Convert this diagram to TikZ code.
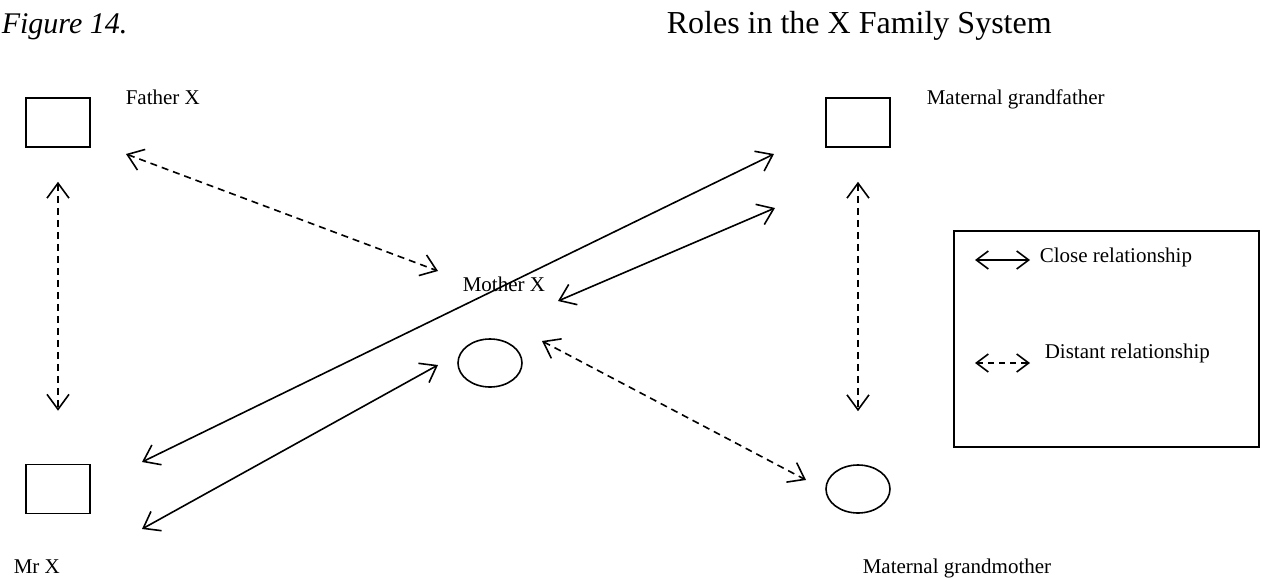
\documentclass[tikz,border=0pt]{standalone}
\usepackage{fontspec}
\setmainfont{Liberation Serif}
\usetikzlibrary{arrows.meta,positioning,shapes.geometric}

\begin{document}
\begin{tikzpicture}[
  x=1pt, y=-1pt,
  line width=1.6pt,
  lbl/.style={font=\fontsize{21}{25}\selectfont, inner sep=0pt, anchor=base west},
  ttl/.style={font=\fontsize{32}{38}\selectfont, inner sep=0pt, anchor=base west},
  male/.style={draw, minimum width=64pt, minimum height=49pt, inner sep=0pt},
  female/.style={draw, ellipse, minimum width=64pt, minimum height=48pt, inner sep=0pt},
  rel/.style={{Straight Barb[length=15pt,width=22pt]}-{Straight Barb[length=15pt,width=22pt]}},
  close/.style={rel},
  distant/.style={rel, dash pattern=on 7pt off 5pt},
  keyclose/.style={{Straight Barb[length=12pt,width=18pt]}-{Straight Barb[length=12pt,width=18pt]}},
  keydistant/.style={keyclose, dash pattern=on 6pt off 5pt}
]
\useasboundingbox (0,0) rectangle (1262,579);

% heading
\node[ttl, font=\fontsize{30}{36}\selectfont\itshape] (fig) at (1,33) {Figure 14.};
\node[ttl] (title) at (666,33) {Roles in the X Family System};

% family members
\node[male] (father) at (58,122.5) {};
\node[male] (mrx) at (58,489) {};
\node[male] (gfather) at (858,122.5) {};
\node[female] (mother) at (490,363) {};
\node[female] (gmother) at (858,489) {};

\node[lbl] (fatherlbl) at (125,104) {Father X};
\node[lbl] (mrxlbl) at (13,573) {Mr X};
\node[lbl] (gfatherlbl) at (926,104) {Maternal grandfather};
\node[lbl] (motherlbl) at (462,291) {Mother X};
\node[lbl] (gmotherlbl) at (862,573) {Maternal grandmother};

% free ends of the diagonal arrows
\coordinate (fm1) at (126,154);
\coordinate (fm2) at (438,271);
\coordinate (mg1) at (542,341);
\coordinate (mg2) at (806,480);
\coordinate (xg1) at (142,462);
\coordinate (xg2) at (774,154);
\coordinate (xm1) at (142,529);
\coordinate (xm2) at (438,365);
\coordinate (mf1) at (558,301);
\coordinate (mf2) at (775,208);

% relationships
\draw[distant, shorten <=34pt, shorten >=53pt] (father) -- (mrx);
\draw[distant, shorten <=34pt, shorten >=53pt] (gfather) -- (gmother);
\draw[distant] (fm1) -- (fm2);
\draw[distant] (mg1) -- (mg2);
\draw[close] (xg1) -- (xg2);
\draw[close] (xm1) -- (xm2);
\draw[close] (mf1) -- (mf2);

% key
\node[draw, minimum width=305pt, minimum height=216pt, inner sep=0pt] (key) at (1106.5,339) {};
\coordinate (kc1) at (975,260);
\coordinate (kc2) at (1030,260);
\coordinate (kd1) at (975,363);
\coordinate (kd2) at (1030,363);
\draw[keyclose] (kc1) -- (kc2);
\draw[keydistant] (kd1) -- (kd2);
\node[lbl] (closelbl) at (1039,262) {Close relationship};
\node[lbl] (distantlbl) at (1044,358) {Distant relationship};
\end{tikzpicture}
\end{document}
